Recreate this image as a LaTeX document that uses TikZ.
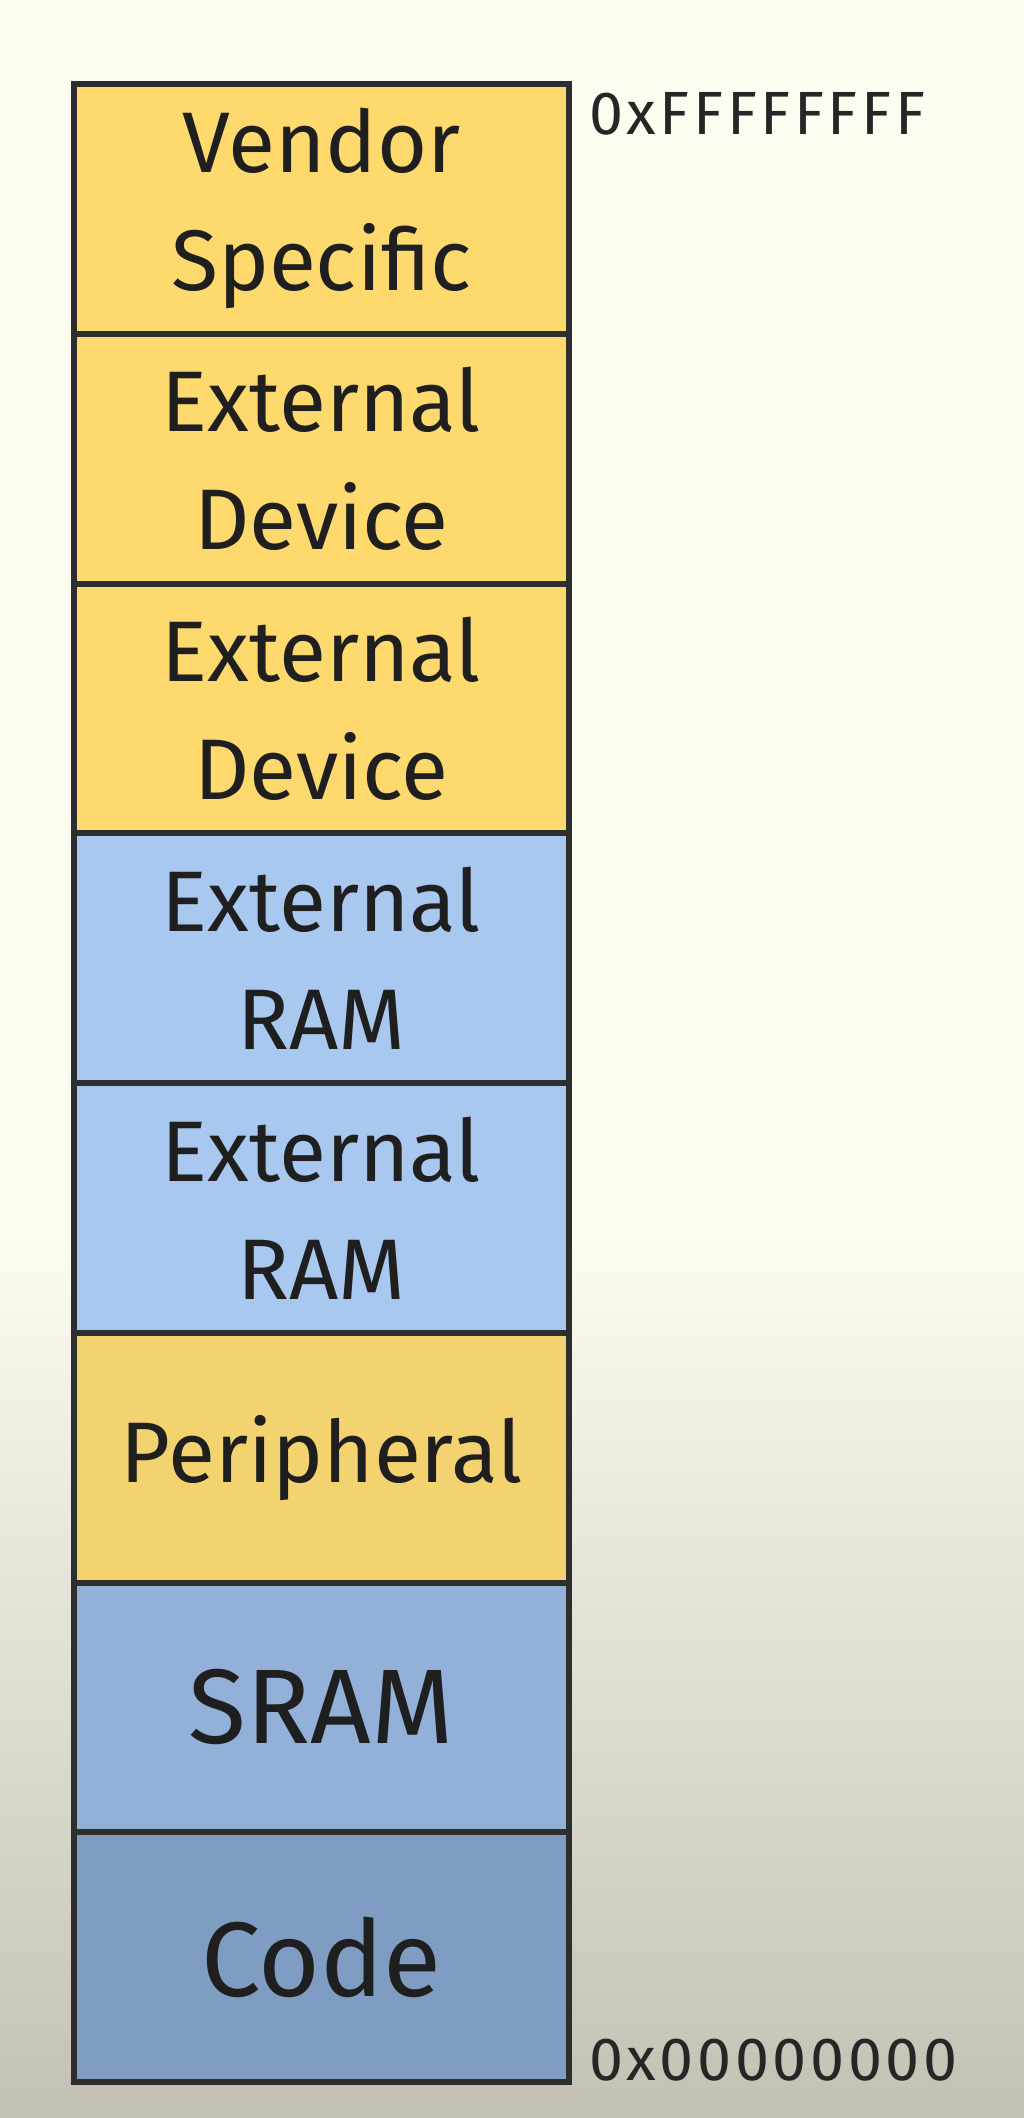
\documentclass[tikz,border=0pt]{standalone}
\usepackage{fontspec}
\setmainfont{Fira Sans}
\usetikzlibrary{positioning}

\definecolor{bgtop}{HTML}{FDFCF1}
\definecolor{bgbottom}{HTML}{C4C0B4}
\definecolor{memyellow}{HTML}{FED96E}
\definecolor{periyellow}{HTML}{F3D370}
\definecolor{memblue}{HTML}{A9C8F0}
\definecolor{sramblue}{HTML}{93B1D8}
\definecolor{codeblue}{HTML}{7F9DC2}
\definecolor{regionline}{HTML}{2C2F2D}

\tikzset{
    region/.style={draw=regionline, line width=6pt, minimum width=495pt,
        minimum height=249.75pt, inner sep=0pt, outer sep=0pt, align=center,
        text=black!88, font=\fontsize{86}{118}\selectfont},
    bigregion/.style={region, font=\fontsize{106}{120}\selectfont},
    addr/.style={inner sep=0pt, text=black!85,
        font=\fontsize{61}{64}\selectfont\addfontfeature{LetterSpace=6}}
}

\begin{document}
\begin{tikzpicture}[x=1pt, y=1pt]
    % Page and background
    \useasboundingbox (0,0) rectangle (1024,-2118);
    \fill[bgtop] (0,0) rectangle (1024,-1230);
    \shade[top color=bgtop, bottom color=bgbottom] (0,-1230) rectangle (1024,-2118);

    % Memory regions (top = high addresses)
    \node[region, fill=memyellow, anchor=north west] (vendor) at (74,-84) {Vendor\\Specific};
    \node[region, fill=memyellow, below=0pt of vendor] (extdevA) {External\\Device};
    \node[region, fill=memyellow, below=0pt of extdevA] (extdevB) {External\\Device};
    \node[region, fill=memblue, below=0pt of extdevB] (extramA) {External\\RAM};
    \node[region, fill=memblue, below=0pt of extramA] (extramB) {External\\RAM};
    \node[region, fill=periyellow, below=0pt of extramB] (periph) {Peripheral};
    \node[bigregion, fill=sramblue, below=0pt of periph] (sram) {SRAM};
    \node[bigregion, fill=codeblue, below=0pt of sram] (code) {Code};

    % Address labels
    \node[addr, anchor=north west] (addrtop) at ([xshift=20pt, yshift=-8pt]vendor.north east) {0xFFFFFFFF};
    \node[addr, anchor=base west] (addrbottom) at ([xshift=20pt, yshift=2pt]code.south east) {0x00000000};
\end{tikzpicture}
\end{document}
